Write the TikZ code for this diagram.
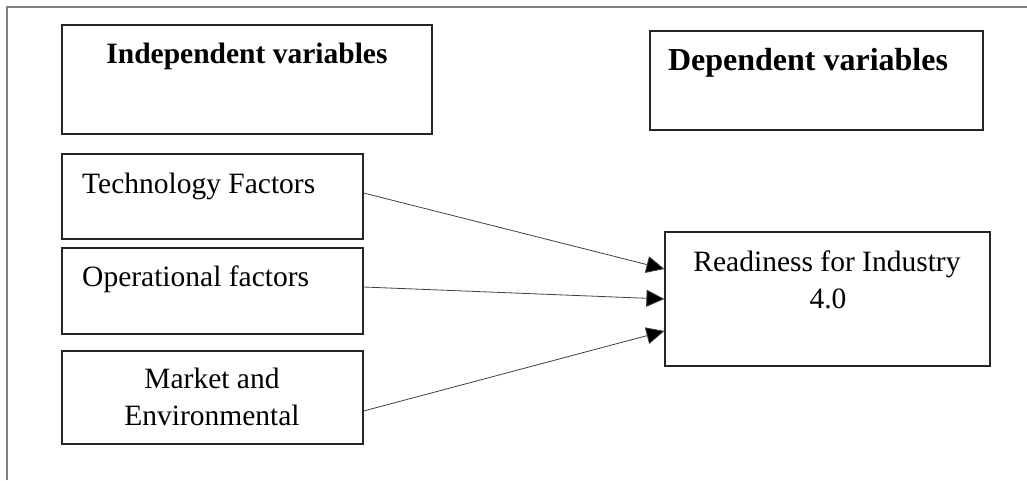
\documentclass[tikz,border=0pt]{standalone}
\usepackage{fontspec}
\setmainfont{Liberation Serif}
\usetikzlibrary{arrows.meta}
\tikzset{
  box/.style={draw=black!85, line width=1.2pt, rectangle, inner sep=0pt},
  txt/.style={inner sep=0pt, font=\fontsize{29.5}{37}\selectfont},
  head/.style={inner sep=0pt, font=\fontsize{29.5}{37}\selectfont\bfseries},
  conn/.style={draw=black!75, line width=0.8pt, -{Triangle[length=18pt,width=17pt,fill=black]}},
  frame/.style={draw=black!50, line width=1.6pt}
}
\begin{document}
\begin{tikzpicture}[x=1pt,y=-1pt]
\useasboundingbox (0,0) rectangle (1027,480);
% outer frame (only left and top edges visible)
\coordinate (fa) at (7,480);
\coordinate (fb) at (7,7);
\coordinate (fc) at (1027,7);
\draw[frame] (fa) -- (fb) -- (fc);
% boxes
\node[box, minimum width=370pt, minimum height=109pt] (indep) at (247,79.5) {};
\node[box, minimum width=333pt, minimum height=99pt] (dep) at (816.5,80.5) {};
\node[box, minimum width=301pt, minimum height=85pt] (tech) at (212.5,196.5) {};
\node[box, minimum width=301pt, minimum height=86pt] (oper) at (212.5,291) {};
\node[box, minimum width=301pt, minimum height=93pt] (market) at (212.5,397.5) {};
\node[box, minimum width=325pt, minimum height=134pt] (ready) at (827.5,299) {};
% texts
\node[head, anchor=base] (indeptxt) at (247,63) {Independent variables};
\node[head, anchor=base, font=\fontsize{32}{38}\selectfont\bfseries] (deptxt) at (808,70) {Dependent variables};
\node[txt, anchor=base west] (techtxt) at (82,193) {Technology Factors};
\node[txt, anchor=base west] (opertxt) at (82,286) {Operational factors};
\node[txt, anchor=base] (markettxt1) at (212,388) {Market and};
\node[txt, anchor=base] (markettxt2) at (212,425) {Environmental};
\node[txt, anchor=base] (readytxt1) at (827,271) {Readiness for Industry};
\node[txt, anchor=base] (readytxt2) at (828,308) {4.0};
% connectors
\draw[conn] ([yshift=3.5pt]tech.east) -- ([yshift=30pt]ready.west);
\draw[conn] ([yshift=4pt]oper.east) -- (ready.west);
\draw[conn] ([yshift=-13.5pt]market.east) -- ([yshift=-32pt]ready.west);
\end{tikzpicture}
\end{document}
